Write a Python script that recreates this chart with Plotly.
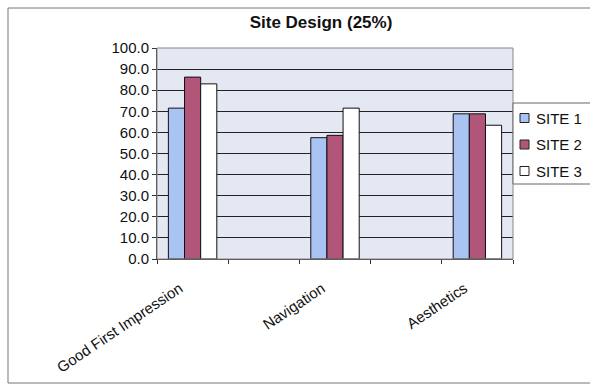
import plotly.graph_objects as go

categories = ["Good First Impression", " ", "Navigation", "  ", "Aesthetics"]
site1 = [71.5, None, 57.5, None, 68.8]
site2 = [86.2, None, 58.6, None, 68.8]
site3 = [83.0, None, 71.5, None, 63.4]
series_names = ["SITE 1", "SITE 2", "SITE 3"]
colors = ["#A9C4F2", "#B25679", "#FFFFFF"]
y_ticks = [0, 10, 20, 30, 40, 50, 60, 70, 80, 90, 100]

L, R, T, B = 157, 513, 48, 259
W, H = 590, 385

def px_x(p):  # pixel -> plot-paper x
    return (p - L) / (R - L)

def px_y(p):  # pixel -> plot-paper y
    return (B - p) / (B - T)

fig = go.Figure()
for name, vals, col in zip(series_names, [site1, site2, site3], colors):
    fig.add_trace(go.Bar(x=categories, y=vals, name=name, showlegend=False,
                         marker=dict(color=col, line=dict(color="#111111", width=1))))

fig.update_layout(
    width=W, height=H,
    margin=dict(l=L, r=W - R, t=T, b=H - B, autoexpand=False),
    paper_bgcolor="white",
    plot_bgcolor="#E4E8F3",
    barmode="group", bargap=0.32, bargroupgap=0,
    font=dict(family="Liberation Sans, Arial, sans-serif", color="#111111", size=15),
    title=dict(text="<b>Site Design (25%)</b>", x=321 / W,
               xanchor="center", y=1 - 22 / H, yanchor="middle", font=dict(size=17)),
)
fig.update_xaxes(type="category", tickangle=-34, ticks="outside", tickson="boundaries",
                 ticklen=4, tickcolor="#333333", showline=True, linecolor="#333333",
                 showgrid=False, tickfont=dict(size=15),
                 ticklabelstandoff=14, ticklabelshift=-13)
fig.update_yaxes(range=[0, 100], tickvals=y_ticks, tickformat=".1f", ticks="outside",
                 ticklen=4, tickcolor="#333333", showline=True, linecolor="#333333",
                 showgrid=True, gridcolor="#222222", gridwidth=1, zeroline=False,
                 tickfont=dict(size=15))
# plot-area border and outer chart border
fig.add_shape(type="rect", xref="paper", yref="paper", x0=0, x1=1, y0=0, y1=1,
              line=dict(color="#888888", width=1), layer="above")
fig.add_shape(type="rect", xref="paper", yref="paper",
              x0=px_x(8), x1=px_x(600), y0=px_y(383), y1=px_y(8),
              line=dict(color="#777777", width=1))

# legend box (drawn to match the reference's compact legend)
fig.add_shape(type="rect", xref="paper", yref="paper",
              x0=px_x(513), x1=px_x(600), y0=px_y(184), y1=px_y(103),
              line=dict(color="#666666", width=1), fillcolor="white")
for i, (name, col) in enumerate(zip(series_names, colors)):
    cy = 118 + i * 26.5
    fig.add_shape(type="rect", xref="paper", yref="paper",
                  x0=px_x(520), x1=px_x(529), y0=px_y(cy + 4.5), y1=px_y(cy - 4.5),
                  line=dict(color="#222222", width=1), fillcolor=col)
    fig.add_annotation(text=name, xref="paper", yref="paper", x=px_x(534), y=px_y(cy),
                       xanchor="left", yanchor="middle", showarrow=False,
                       font=dict(size=15))

fig.write_html("out.html")
